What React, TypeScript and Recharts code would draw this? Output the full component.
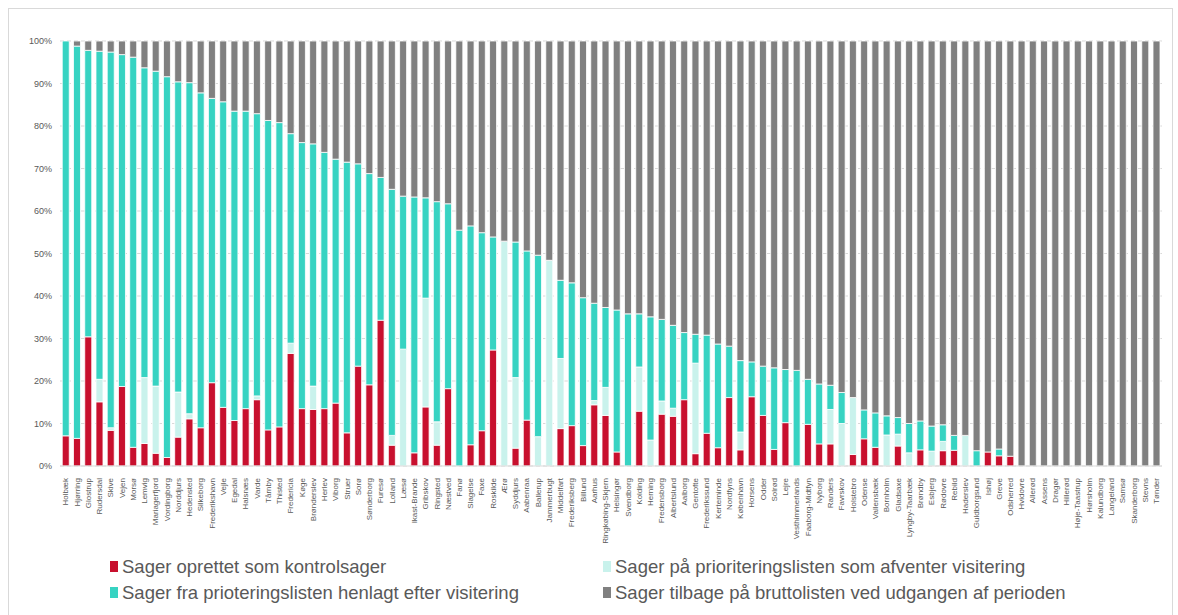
import { BarChart, Bar, XAxis, YAxis, CartesianGrid } from "recharts";

const kommuner = [
  "Holbæk", "Hjørring", "Glostrup", "Rudersdal", "Skive", "Vejen", "Morsø", "Lemvig", "Mariagerfjord", "Vordingborg",
  "Norddjurs", "Hedensted", "Silkeborg", "Frederikshavn", "Vejle", "Egedal", "Halsnæs", "Varde", "Tårnby", "Thisted",
  "Fredericia", "Køge", "Brønderslev", "Herlev", "Viborg", "Struer", "Sorø", "Sønderborg", "Furesø", "Lolland",
  "Læsø", "Ikast-Brande", "Gribskov", "Ringsted", "Næstved", "Fanø", "Slagelse", "Faxe", "Roskilde", "Ærø",
  "Syddjurs", "Aabenraa", "Ballerup", "Jammerbugt", "Middelfart", "Frederiksberg", "Billund", "Aarhus", "Ringkøbing-Skjern", "Helsingør",
  "Svendborg", "Kolding", "Herning", "Fredensborg", "Albertslund", "Aalborg", "Gentofte", "Frederikssund", "Kerteminde", "Nordfyns",
  "København", "Horsens", "Odder", "Solrød", "Lejre", "Vesthimmerlands", "Faaborg-Midtfyn", "Nyborg", "Randers", "Favrskov",
  "Holstebro", "Odense", "Vallensbæk", "Bornholm", "Gladsaxe", "Lyngby-Taarbæk", "Brøndby", "Esbjerg", "Rødovre", "Rebild",
  "Haderslev", "Guldborgsund", "Ishøj", "Greve", "Odsherred", "Hvidovre", "Allerød", "Assens", "Dragør", "Hillerød",
  "Høje-Taastrup", "Hørsholm", "Kalundborg", "Langeland", "Samsø", "Skanderborg", "Stevns", "Tønder",
];

// Sager oprettet som kontrolsager (%)
const kontrol = [
  7.1, 6.5, 30.4, 15.1, 8.4, 18.7, 4.4, 5.3, 3.0, 2.0,
  6.8, 11.1, 9.0, 19.6, 13.8, 10.7, 13.5, 15.6, 8.5, 9.2,
  26.5, 13.5, 13.3, 13.5, 14.8, 7.8, 23.5, 19.1, 34.3, 4.9,
  0, 3.1, 13.9, 4.9, 18.2, 0, 5.0, 8.3, 27.3, 0,
  4.2, 10.8, 0, 0, 8.8, 9.5, 4.8, 14.4, 11.9, 3.3,
  0, 12.9, 0, 12.2, 11.7, 15.6, 2.9, 7.7, 4.3, 16.1,
  3.8, 16.3, 11.9, 3.9, 10.2, 0, 9.8, 5.2, 5.2, 0,
  2.7, 6.4, 4.4, 0, 4.7, 0, 3.8, 0, 3.6, 3.7,
  0, 0, 3.3, 2.4, 2.3, 0, 0, 0, 0, 0,
  0, 0, 0, 0, 0, 0, 0, 0,
];

// Sager på prioriteringslisten som afventer visitering (%)
const afventer = [
  0, 0, 0, 5.3, 0.6, 0, 0, 15.5, 15.8, 0,
  10.6, 1.2, 0, 0, 0, 0, 0, 0.9, 0, 0,
  2.4, 0, 5.5, 0, 0, 0, 0, 0, 0, 2.3,
  27.5, 0, 25.6, 5.5, 0, 0, 0, 0, 0, 52.9,
  16.6, 0, 6.9, 48.4, 16.5, 0, 0, 1.0, 6.6, 0,
  0, 10.4, 6.1, 3.1, 1.9, 0, 21.3, 0, 0, 0,
  4.2, 0, 0, 0, 0, 0, 0, 0, 8.1, 10.0,
  13.4, 0, 0, 7.3, 2.8, 3.1, 0, 3.5, 2.2, 0,
  7.2, 0, 0, 0, 0, 0, 0, 0, 0, 0,
  0, 0, 0, 0, 0, 0, 0, 0,
];

// Sager fra prioteringslisten henlagt efter visitering (%)
const henlagt = [
  92.9, 92.3, 67.4, 77.2, 88.4, 78.1, 91.8, 72.9, 74.1, 89.6,
  73.0, 77.9, 78.8, 66.9, 71.9, 72.8, 70.0, 66.4, 72.8, 71.6,
  49.3, 62.6, 57.0, 60.3, 57.4, 63.7, 47.6, 49.7, 33.6, 57.9,
  36.0, 60.2, 23.6, 51.8, 43.5, 55.5, 51.5, 46.6, 26.6, 0,
  31.9, 39.8, 42.7, 0, 18.4, 33.6, 34.8, 22.9, 18.8, 33.4,
  35.8, 12.5, 29.0, 19.2, 19.5, 15.8, 6.8, 23.1, 24.4, 12.1,
  16.8, 8.2, 11.6, 19.2, 12.5, 22.5, 10.6, 14.1, 5.7, 7.3,
  0, 6.8, 8.1, 4.5, 3.9, 6.9, 6.8, 5.9, 3.9, 3.5,
  0, 3.6, 0, 1.6, 0, 0, 0, 0, 0, 0,
  0, 0, 0, 0, 0, 0, 0, 0,
];

// Sager tilbage på bruttolisten ved udgangen af perioden (%)
const tilbage = [
  0, 1.2, 2.2, 2.4, 2.6, 3.2, 3.8, 6.3, 7.1, 8.4,
  9.6, 9.8, 12.2, 13.5, 14.3, 16.5, 16.5, 17.1, 18.7, 19.2,
  21.8, 23.9, 24.2, 26.2, 27.8, 28.5, 28.9, 31.2, 32.1, 34.9,
  36.5, 36.7, 36.9, 37.8, 38.3, 44.5, 43.5, 45.1, 46.1, 47.1,
  47.3, 49.4, 50.4, 51.6, 56.3, 56.9, 60.4, 61.7, 62.7, 63.3,
  64.2, 64.2, 64.9, 65.5, 66.9, 68.6, 69.0, 69.2, 71.3, 71.8,
  75.2, 75.5, 76.5, 76.9, 77.3, 77.5, 79.6, 80.7, 81.0, 82.7,
  83.9, 86.8, 87.5, 88.2, 88.6, 90.0, 89.4, 90.6, 90.3, 92.8,
  92.8, 96.4, 96.7, 96.0, 97.7, 100, 100, 100, 100, 100,
  100, 100, 100, 100, 100, 100, 100, 100,
];

const yTicks = [0, 10, 20, 30, 40, 50, 60, 70, 80, 90, 100];

const series = [
  { key: "kontrol", label: "Sager oprettet som kontrolsager", color: "#C8102E" },
  { key: "afventer", label: "Sager på prioriteringslisten som afventer visitering", color: "#C9F2EC" },
  { key: "henlagt", label: "Sager fra prioteringslisten henlagt efter visitering", color: "#37D3C2" },
  { key: "tilbage", label: "Sager tilbage på bruttolisten ved udgangen af perioden", color: "#808080" },
];

const data = kommuner.map((name, i) => ({
  name,
  kontrol: kontrol[i],
  afventer: afventer[i],
  henlagt: henlagt[i],
  tilbage: tilbage[i],
}));

const font = "'Liberation Sans', Arial, sans-serif";

function KommuneTick(props: any) {
  const { x, y, payload } = props;
  return (
    <text
      transform={`translate(${x},${y + 4}) rotate(-90)`}
      textAnchor="end"
      dy="0.35em"
      fontSize={8}
      fill="#595959"
      fontFamily={font}
    >
      {payload.value}
    </text>
  );
}

export default function App() {
  return (
    <div
      style={{
        position: "absolute",
        left: 0,
        top: 0,
        width: 1178,
        height: 615,
        background: "#fff",
        fontFamily: font,
        overflow: "hidden",
      }}
    >
      <div
        style={{
          position: "absolute",
          left: 8,
          top: 8,
          width: 1163,
          height: 640,
          border: "1px solid #d9d9d9",
        }}
      />
      <BarChart
        width={1178}
        height={556}
        data={data}
        margin={{ top: 41, right: 16, left: 0, bottom: 0 }}
        barCategoryGap="20%"
      >
        <CartesianGrid vertical={false} stroke="#d9d9d9" strokeDasharray="4 3" />
        <XAxis
          dataKey="name"
          interval={0}
          height={90}
          tick={<KommuneTick />}
          tickLine={false}
          axisLine={{ stroke: "#d9d9d9" }}
        />
        <YAxis
          domain={[0, 100]}
          ticks={yTicks}
          allowDataOverflow
          tickFormatter={(v: number) => `${v}%`}
          width={60}
          axisLine={false}
          tickLine={false}
          tickSize={0}
          tickMargin={8}
          tick={{ fontSize: 9, fill: "#595959", fontFamily: font }}
        />
        {series.map((s) => (
          <Bar
            key={s.key}
            dataKey={s.key}
            stackId="a"
            fill={s.color}
            stroke="#fff"
            strokeWidth={0.8}
            isAnimationActive={false}
          />
        ))}
      </BarChart>
      <div
        style={{
          position: "absolute",
          left: 110,
          top: 556,
          display: "grid",
          gridTemplateColumns: "493px 520px",
          rowGap: 5,
          fontSize: 18.5,
          color: "#595959",
        }}
      >
        {series.map((s) => (
          <div key={s.key} style={{ display: "flex", alignItems: "center", height: 21, whiteSpace: "nowrap" }}>
            <span style={{ width: 8, height: 11, background: s.color, marginRight: 4, display: "inline-block" }} />
            {s.label}
          </div>
        ))}
      </div>
    </div>
  );
}
